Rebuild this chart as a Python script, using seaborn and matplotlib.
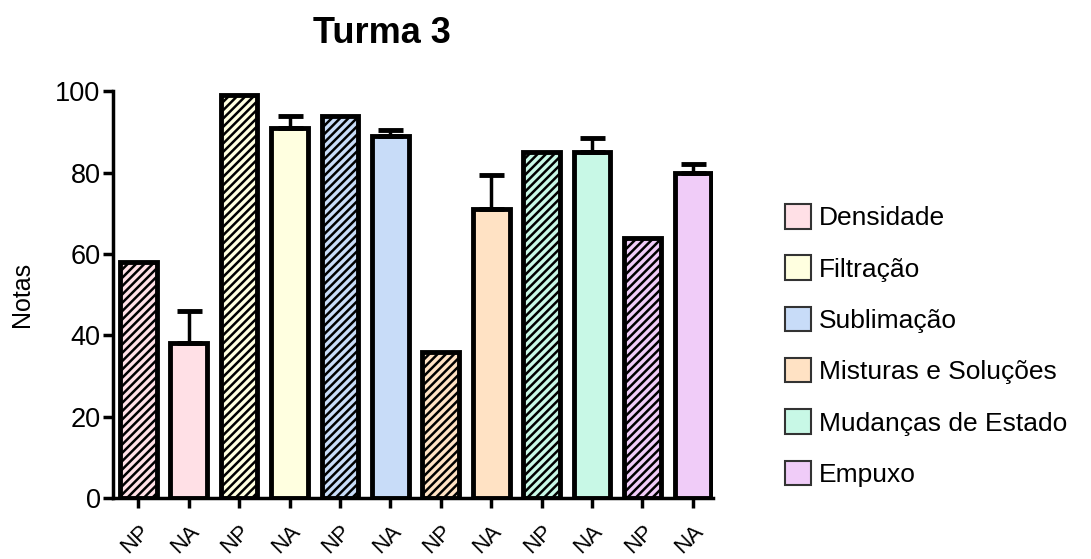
import numpy as np
import pandas as pd
import seaborn as sns
import matplotlib
matplotlib.use("Agg")
import matplotlib.pyplot as plt
from matplotlib.patches import Patch

topics = ["Densidade", "Filtração", "Sublimação", "Misturas e Soluções", "Mudanças de Estado", "Empuxo"]
groups = ["NP", "NA"]
np_values = [58, 99, 94, 36, 85, 64]
na_values = [38, 91, 89, 71, 85, 80]
np_err = [0, 0, 0, 0, 0, 0]
na_err = [8, 3, 1.5, 8.5, 3.5, 2]
colors = ["#FFE0E6", "#FFFFE0", "#C8DCF8", "#FFE2C4", "#C8F8E6", "#F0CCF8"]

sns.set_theme(style="ticks")
plt.rcParams['font.family'] = ['Liberation Sans', 'DejaVu Sans']
for k in ["text.color", "axes.labelcolor", "xtick.color", "ytick.color", "axes.edgecolor"]:
    plt.rcParams[k] = "black"
plt.rcParams['hatch.linewidth'] = 1.8

rows = []
for t, a, b, ea, eb in zip(topics, np_values, na_values, np_err, na_err):
    rows.append({"key": t + " NP", "topic": t, "grupo": "NP", "nota": a, "err": ea})
    rows.append({"key": t + " NA", "topic": t, "grupo": "NA", "nota": b, "err": eb})
df = pd.DataFrame(rows)
bar_colors = [colors[topics.index(t)] for t in df["topic"]]

fig = plt.figure(figsize=(10.91, 5.59), dpi=100)
ax = fig.add_axes([0.1036, 0.109, 0.55, 0.728])

sns.barplot(data=df, x="key", y="nota", hue="key", palette=bar_colors, legend=False,
            order=list(df["key"]), width=0.73, edgecolor="black", linewidth=3.5,
            saturation=1, ax=ax)

for patch, g in zip(ax.patches, df["grupo"]):
    if g == "NP":
        patch.set_hatch("////")

xs = np.arange(len(df))
mask = df["err"].values > 0
ax.errorbar(xs[mask], df["nota"].values[mask],
            yerr=[np.zeros(mask.sum()), df["err"].values[mask]],
            fmt="none", ecolor="black", elinewidth=2.5, capsize=9, capthick=3.5, zorder=1)

ax.set_ylim(0, 100)
ax.set_xlim(-0.5, 11.4)
ax.set_yticks([0, 20, 40, 60, 80, 100])
ax.set_xticks(xs)
ax.set_xticklabels(df["grupo"], rotation=45, ha="right", rotation_mode="anchor", fontsize=16)
ax.tick_params(axis="y", labelsize=19.5, width=2.5, length=7, pad=2)
ax.tick_params(axis="x", width=2.5, length=7, pad=9)
ax.set_xlabel("")
ax.set_ylabel("Notas", fontsize=18, labelpad=15)
sns.despine(ax=ax)
for s in ["left", "bottom"]:
    ax.spines[s].set_linewidth(2.5)

fig.text(0.35, 1 - 43 / 559, "Turma 3", ha="center", va="baseline", fontsize=26, fontweight="bold")

handles = [Patch(facecolor=c, edgecolor="#333333", linewidth=1.5) for c in colors]
fig.legend(handles, topics, loc="center left", bbox_to_anchor=(0.7195, 0.382), frameon=False,
           borderaxespad=0, borderpad=0,
           fontsize=19, handlelength=1.0, handleheight=1.05, handletextpad=0.3, labelspacing=0.95)

fig.savefig("out.png", dpi=100)
